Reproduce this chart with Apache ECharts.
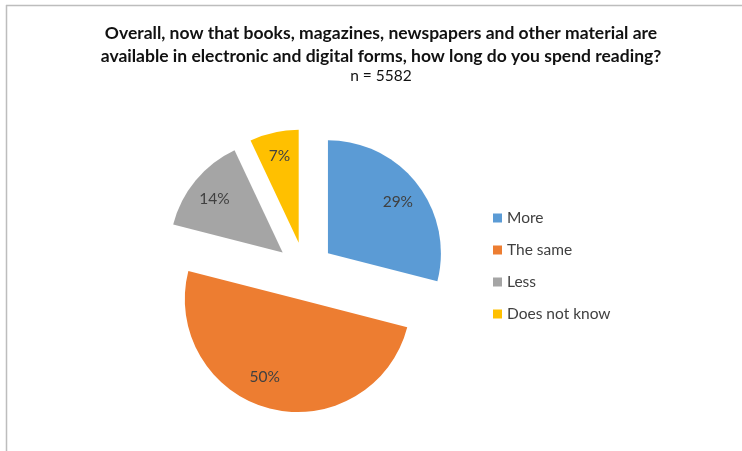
<!DOCTYPE html>
<html>
<head>
<meta charset="utf-8">
<script src="https://cdn.jsdelivr.net/npm/echarts@6/dist/echarts.min.js"></script>
<style>
  html, body { margin: 0; padding: 0; background: #fff; }
  #chart { width: 742px; height: 451px; }
</style>
</head>
<body>
<div id="chart"></div>
<script>
// Survey answers: reading time since digital formats became available
const categories = ['More', 'The same', 'Less', 'Does not know'];
const shares = [29, 50, 14, 7];
const colors = ['#5B9BD5', '#ED7D31', '#A5A5A5', '#FFC000'];
const titleLines = [
  'Overall, now that books, magazines, newspapers and other material are',
  'available in electronic and digital forms, how long do you spend reading?'
];
const sampleNote = 'n = 5582';

const FONT = 'Lato';
const center = [305, 271];
const radius = 113;
const explode = 29;

const sliceData = categories.map((name, i) => ({
  name: name,
  value: shares[i],
  selected: true,
  itemStyle: { color: colors[i] }
}));

// small label shifts away from the slice bisector
const labelNudge = {
  'More': { dx: 0, dy: 3 },
  'The same': { dx: -11, dy: -8 },
  'Less': { dx: 0, dy: 3 },
  'Does not know': { dx: 0, dy: 0 }
};

const chart = echarts.init(document.getElementById('chart'), null, { renderer: 'canvas' });
chart.setOption({
  backgroundColor: '#ffffff',
  animation: false,
  title: {
    text: titleLines.join('\n'),
    subtext: sampleNote,
    left: 376,
    textAlign: 'center',
    top: 17,
    itemGap: 0,
    textStyle: { fontFamily: FONT, fontWeight: 'bold', fontSize: 17.5, color: '#111111', lineHeight: 23 },
    subtextStyle: { fontFamily: FONT, fontSize: 15.5, color: '#111111' }
  },
  legend: {
    orient: 'vertical',
    left: 488,
    top: 205,
    itemWidth: 9,
    itemHeight: 9,
    itemGap: 16,
    icon: 'rect',
    selectedMode: false,
    data: categories,
    textStyle: { fontFamily: FONT, fontSize: 15.5, color: '#404040' }
  },
  graphic: [
    { type: 'line', shape: { x1: 6, y1: 5.5, x2: 742, y2: 5.5 }, style: { stroke: '#bdbdbd', lineWidth: 1.5 } },
    { type: 'line', shape: { x1: 6.5, y1: 5, x2: 6.5, y2: 451 }, style: { stroke: '#bdbdbd', lineWidth: 1.5 } }
  ],
  series: [
    {
      type: 'pie',
      center: center,
      radius: radius,
      startAngle: 90,
      clockwise: true,
      selectedMode: 'multiple',
      selectedOffset: explode,
      label: { show: false },
      labelLine: { show: false },
      emphasis: { disabled: true },
      data: sliceData
    },
    {
      // transparent ring that carries the percentage labels further out
      type: 'pie',
      center: center,
      radius: [58, radius],
      startAngle: 90,
      clockwise: true,
      silent: true,
      selectedMode: 'multiple',
      selectedOffset: explode,
      itemStyle: { color: 'rgba(0,0,0,0)' },
      label: {
        show: true,
        position: 'inside',
        formatter: '{c}%',
        fontFamily: FONT,
        fontSize: 15.5,
        color: '#404040'
      },
      labelLayout: function (params) {
        const nudge = labelNudge[categories[params.dataIndex]];
        return { dx: nudge.dx, dy: nudge.dy };
      },
      labelLine: { show: false },
      emphasis: { disabled: true },
      data: categories.map((name, i) => ({ name: name, value: shares[i], selected: true }))
    }
  ]
});
</script>
</body>
</html>
